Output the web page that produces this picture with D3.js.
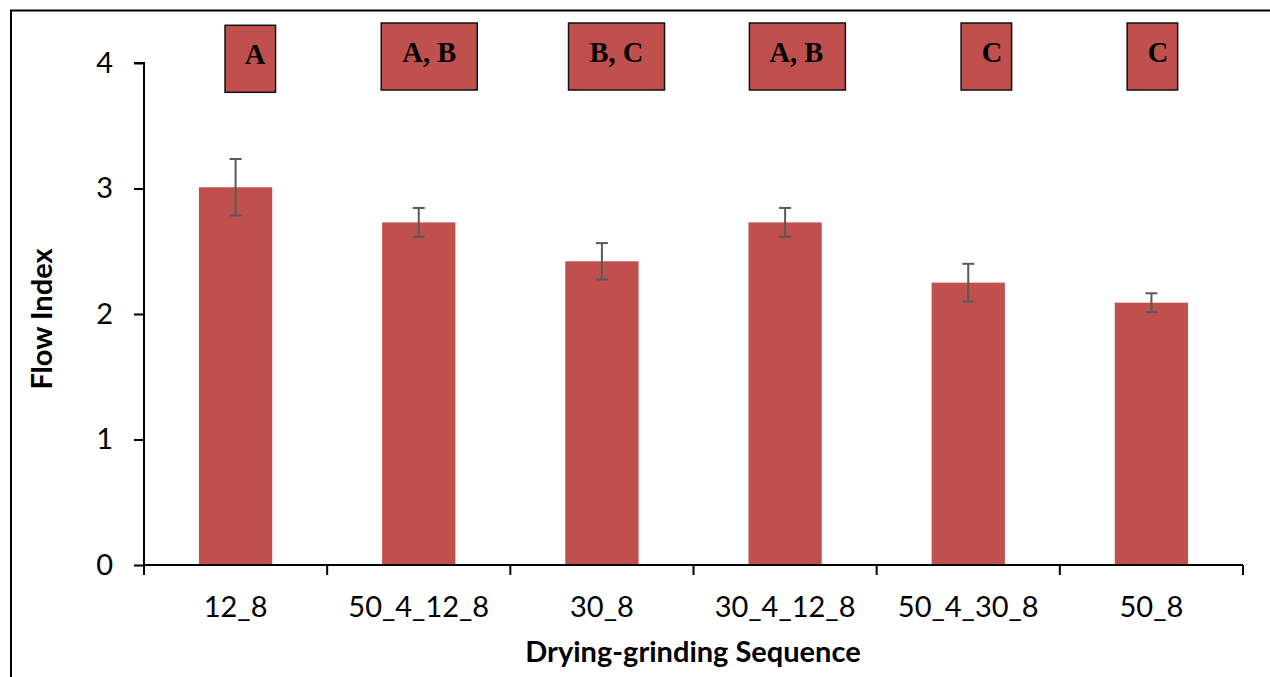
<!DOCTYPE html>
<html>
<head>
<meta charset="utf-8">
<script src="https://cdn.jsdelivr.net/npm/d3@7/dist/d3.min.js"></script>
<style>
  html, body { margin: 0; padding: 0; background: #fff; }
  svg { display: block; }
</style>
</head>
<body>
<svg id="chart" width="1270" height="677"></svg>
<script>
// Flow index by drying-grinding sequence (mean ± error, with significance groups)
const categories = ["12_8", "50_4_12_8", "30_8", "30_4_12_8", "50_4_30_8", "50_8"];
const flowIndex  = [3.01, 2.73, 2.42, 2.73, 2.25, 2.09];
const errors     = [0.225, 0.115, 0.145, 0.115, 0.15, 0.075];
const groups     = ["A", "A, B", "B, C", "A, B", "C", "C"];
const yTicks     = [0, 1, 2, 3, 4];

const barColor = "#C0504D";
const sans = "Lato, 'Open Sans', sans-serif";
const svg = d3.select("#chart");

// outer frame
svg.append("rect")
  .attr("x", 11).attr("y", 10.5)
  .attr("width", 1300).attr("height", 700)
  .attr("fill", "none").attr("stroke", "#000").attr("stroke-width", 2);

const plot = { left: 144, right: 1243, top: 63, bottom: 565 };

const x = d3.scaleBand().domain(categories).range([plot.left, plot.right]).padding(0);
const y = d3.scaleLinear().domain([0, 4]).range([plot.bottom, plot.top]);
const barW = x.bandwidth() * 0.4;

// bars
svg.append("g").selectAll("rect")
  .data(categories)
  .join("rect")
  .attr("x", (d) => x(d) + (x.bandwidth() - barW) / 2)
  .attr("y", (d, i) => y(flowIndex[i]))
  .attr("width", barW)
  .attr("height", (d, i) => y(0) - y(flowIndex[i]))
  .attr("fill", barColor);

// error bars
const eg = svg.append("g").attr("stroke", "#595959").attr("stroke-width", 2).attr("fill", "none");
categories.forEach((c, i) => {
  const cx = x(c) + x.bandwidth() / 2;
  const hi = y(flowIndex[i] + errors[i]);
  const lo = y(flowIndex[i] - errors[i]);
  eg.append("line").attr("x1", cx).attr("x2", cx).attr("y1", hi).attr("y2", lo);
  eg.append("line").attr("x1", cx - 6).attr("x2", cx + 6).attr("y1", hi).attr("y2", hi);
  eg.append("line").attr("x1", cx - 6).attr("x2", cx + 6).attr("y1", lo).attr("y2", lo);
});

// y axis
const yAxis = d3.axisLeft(y).tickValues(yTicks).tickFormat(d3.format("d")).tickSize(10).tickPadding(21);
const yg = svg.append("g").attr("transform", `translate(${plot.left},0)`).call(yAxis);
yg.select(".domain").attr("stroke", "#000").attr("stroke-width", 2).attr("d", `M-10,${plot.top}H0V${plot.bottom}`);
yg.selectAll(".tick line").attr("stroke", "#000").attr("stroke-width", 2);
yg.selectAll(".tick text")
  .attr("font-family", sans)
  .attr("font-size", 29).attr("fill", "#000");

// x axis with tick marks on category boundaries
const xg = svg.append("g").attr("transform", `translate(0,${plot.bottom})`);
xg.append("line").attr("x1", plot.left).attr("x2", plot.right).attr("y1", 0).attr("y2", 0)
  .attr("stroke", "#000").attr("stroke-width", 2);
const bounds = categories.map((c) => x(c)).concat([plot.right]);
xg.selectAll("line.tk").data(bounds).join("line").attr("class", "tk")
  .attr("x1", (d) => d).attr("x2", (d) => d).attr("y1", 0).attr("y2", 10)
  .attr("stroke", "#000").attr("stroke-width", 2);
xg.selectAll("text").data(categories).join("text")
  .attr("x", (d) => x(d) + x.bandwidth() / 2)
  .attr("y", 52)
  .attr("text-anchor", "middle")
  .attr("font-family", sans)
  .attr("font-size", 29).attr("fill", "#000")
  .text((d) => d);

// axis titles
svg.append("text")
  .attr("x", 693).attr("y", 662)
  .attr("text-anchor", "middle")
  .attr("font-family", sans)
  .attr("font-weight", "bold").attr("font-size", 29)
  .text("Drying-grinding Sequence");
svg.append("text")
  .attr("transform", "translate(52,319) rotate(-90)")
  .attr("text-anchor", "middle")
  .attr("font-family", sans)
  .attr("font-weight", "bold").attr("font-size", 29)
  .text("Flow Index");

// significance group boxes
const boxShift  = [14.7, 10.5, 14.6, 12.3, 18.1, 1];
const textShift = [4.7, 0, 0, -1, 5.6, 5.6];
const bg = svg.append("g");
groups.forEach((g, i) => {
  const cx = x(categories[i]) + x.bandwidth() / 2 + boxShift[i];
  const w = g.length > 1 ? 96 : 50.5;
  const top = i === 0 ? 25.3 : 23;
  bg.append("rect")
    .attr("x", cx - w / 2).attr("y", top)
    .attr("width", w).attr("height", 67)
    .attr("fill", barColor).attr("stroke", "#111").attr("stroke-width", 1.5);
  bg.append("text")
    .attr("x", cx + textShift[i]).attr("y", top + 38.5)
    .attr("text-anchor", "middle")
    .attr("font-family", "'Liberation Serif', 'Times New Roman', serif")
    .attr("font-weight", "bold").attr("font-size", 28.5)
    .attr("fill", "#000")
    .text(g);
});
</script>
</body>
</html>
